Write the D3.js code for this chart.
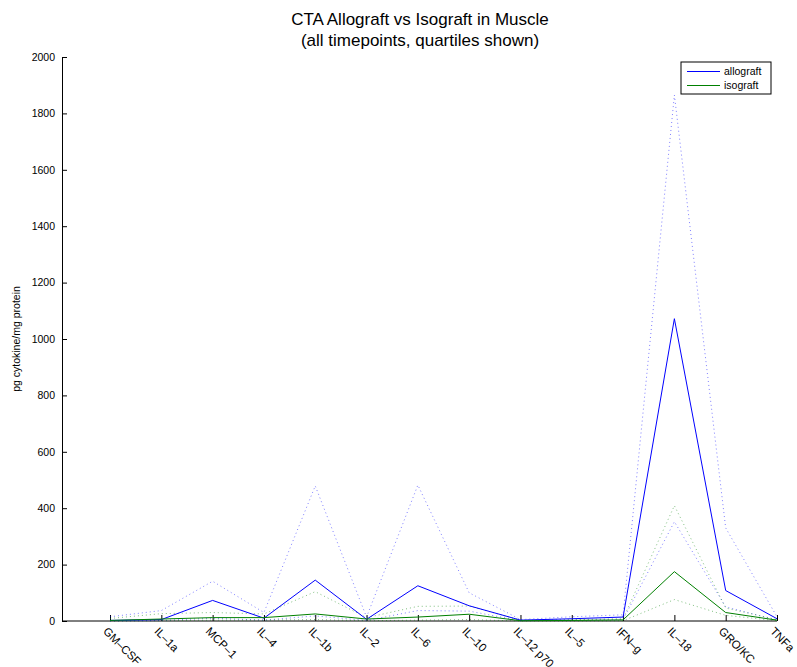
<!DOCTYPE html>
<html><head><meta charset="utf-8">
<script src="https://cdn.jsdelivr.net/npm/d3@7"></script>
<style>body{margin:0;background:#fff;} text{font-family:"Liberation Sans",Arial,Helvetica,sans-serif;}</style>
</head><body>
<svg id="chart" width="797" height="667"></svg>
<script>
const categories = ["GM–CSF","IL–1a","MCP–1","IL–4","IL–1b","IL–2","IL–6","IL–10","IL–12 p70","IL–5","IFN–g","IL–18","GRO/KC","TNFa"];
const alloMedian = [2, 5, 73, 10, 145, 6, 125, 54, 3, 8, 14, 1072, 108, 8];
const alloUpper  = [15, 37, 141, 30, 479, 14, 482, 100, 5, 15, 22, 1865, 330, 15];
const alloLower  = [0, 2, 10, 3, 18, 2, 37, 35, 1, 3, 5, 352, 50, 3];
const isoMedian  = [2, 7, 12, 12, 25, 7, 14, 24, 1, 2, 4, 175, 30, 3];
const isoUpper   = [9, 26, 30, 25, 104, 12, 52, 53, 3, 5, 8, 409, 46, 5];
const isoLower   = [0, 1, 3, 3, 5, 1, 3, 5, 0, 0, 1, 76, 20, 1];
const yTicks = [0,200,400,600,800,1000,1200,1400,1600,1800,2000];
const legendLabels = ["allograft","isograft"];

const svg = d3.select("#chart");
const mLeft = 62, mRight = 777, mTop = 57, mBottom = 621;
const x = d3.scaleLinear().domain([0.064, 14]).range([mLeft, mRight]);
const y = d3.scaleLinear().domain([0, 2000]).range([mBottom, mTop]);
const idx = d3.range(1, categories.length + 1);

// Title
svg.append("text").attr("x", 420).attr("y", 25).attr("text-anchor", "middle")
  .attr("font-size", 17).text("CTA Allograft vs Isograft in Muscle");
svg.append("text").attr("x", 420).attr("y", 46).attr("text-anchor", "middle")
  .attr("font-size", 17).text("(all timepoints, quartiles shown)");

// Y axis
const yAxis = d3.axisLeft(y).tickValues(yTicks).tickSize(-5).tickPadding(7).tickFormat(d3.format("d"));
const gy = svg.append("g").attr("transform", `translate(${mLeft},0)`).call(yAxis);
gy.select(".domain").attr("stroke", "#000");
gy.selectAll("text").attr("font-size", 10.5).attr("font-family", "Liberation Sans, Arial, sans-serif");

// X axis
const xAxis = d3.axisBottom(x).tickValues(idx).tickSize(-6).tickFormat("");
const gx = svg.append("g").attr("transform", `translate(0,${mBottom})`).call(xAxis);
gx.select(".domain").attr("stroke", "#000").attr("d", `M${mLeft},0H${mRight}`);
gx.selectAll(".tick").each(function(d) {
  d3.select(this).append("text")
    .attr("transform", "translate(-2,5) rotate(45)")
    .attr("text-anchor", "start").attr("dy", "0.75em")
    .attr("font-size", 11.5).attr("fill", "#000")
    .text(categories[d - 1]);
});

// Y label
svg.append("text").attr("transform", "translate(20,339) rotate(-90)")
  .attr("text-anchor", "middle").attr("font-size", 10.5).text("pg cytokine/mg protein");

const line = d3.line().x((d, i) => x(i + 1)).y(d => y(d));
const series = [
  {data: alloUpper, color: "#0000ff", dotted: true},
  {data: alloLower, color: "#0000ff", dotted: true},
  {data: isoUpper, color: "#008000", dotted: true},
  {data: isoLower, color: "#008000", dotted: true},
  {data: alloMedian, color: "#0000ff", dotted: false},
  {data: isoMedian, color: "#008000", dotted: false}
];
series.forEach(s => {
  svg.append("path").datum(s.data).attr("d", line)
    .attr("fill", "none").attr("stroke", s.color)
    .attr("stroke-width", 1)
    .attr("stroke-opacity", s.dotted ? 0.5 : 1)
    .attr("stroke-dasharray", s.dotted ? "1,3" : null);
});

// Legend
const lg = svg.append("g");
lg.append("rect").attr("x", 681).attr("y", 62).attr("width", 90).attr("height", 32)
  .attr("fill", "#fff").attr("stroke", "#000");
const legendColors = ["#0000ff", "#008000"];
legendLabels.forEach((t, i) => {
  const yy = 71.5 + i * 14;
  lg.append("line").attr("x1", 687).attr("x2", 720).attr("y1", yy).attr("y2", yy)
    .attr("stroke", legendColors[i]).attr("stroke-width", 1);
  lg.append("text").attr("x", 724).attr("y", yy + 3.5).attr("font-size", 10.5).text(t);
});
</script>
</body></html>
